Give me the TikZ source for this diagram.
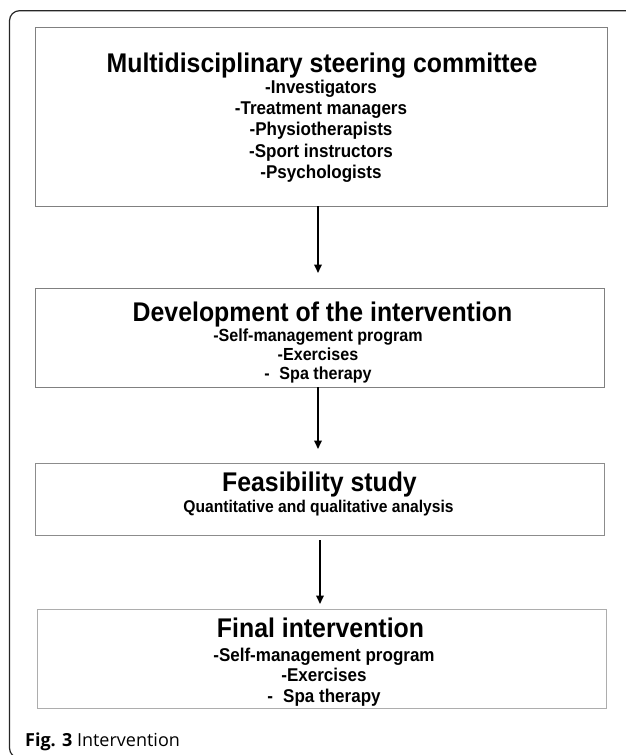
\documentclass[tikz,border=0pt]{standalone}
\usepackage{graphicx}
\usepackage{fontspec}
\setmainfont{Liberation Sans}
\newfontfamily\capfont{Open Sans}
\usetikzlibrary{arrows.meta}
\newcommand\cnd[1]{\scalebox{0.92}[1]{#1}}
\begin{document}
\begin{tikzpicture}[x=1pt,y=-1pt,
  boxst/.style={draw=#1, line width=0.9pt, inner sep=0pt},
  ttl/.style={font=\bfseries\fontsize{27}{30}\selectfont, anchor=base, inner sep=0pt},
  itm/.style={font=\bfseries\fontsize{#1}{#1}\selectfont, anchor=base, inner sep=0pt},
  arr/.style={line width=1.7pt, -{Triangle[width=7.5pt,length=8.5pt]}}]
\useasboundingbox (0,0) rectangle (625,755);
% outer frame
\draw[line width=1.2pt, color=black!85, rounded corners=10pt] (630,10.7) -- (9.5,10.7) -- (9.5,758) -- (630,758);
% boxes
\node[boxst=black!50, minimum width=572pt, minimum height=178.5pt] (b1) at (321,116.75) {};
\node[boxst=black!50, minimum width=569pt, minimum height=99pt] (b2) at (319.5,337.5) {};
\node[boxst=black!45, minimum width=569pt, minimum height=72pt] (b3) at (319.5,499) {};
\node[boxst=black!32, minimum width=569pt, minimum height=99pt] (b4) at (321.5,658.5) {};
% box 1 text
\node[ttl] (t1) at (322,72.5) {\cnd{Multidisciplinary steering committee}};
\node[itm=18.5] (t1a) at (321,93.5) {\cnd{-Investigators}};
\node[itm=18.5] (t1b) at (321,114.5) {\cnd{-Treatment managers}};
\node[itm=18.5] (t1c) at (321,135.5) {\cnd{-Physiotherapists}};
\node[itm=18.5] (t1d) at (321,157) {\cnd{-Sport instructors}};
\node[itm=18.5] (t1e) at (321,178.5) {\cnd{-Psychologists}};
% box 2 text
\node[ttl] (t2) at (322.5,321) {\cnd{Development of the intervention}};
\node[itm=17.5] (t2a) at (318,341) {\cnd{-Self-management program}};
\node[itm=17.5] (t2b) at (318,360) {\cnd{-Exercises}};
\node[itm=17.5] (t2c) at (318,379) {\cnd{-\hspace{0.6em}Spa therapy}};
% box 3 text
\node[ttl] (t3) at (319.5,491) {\cnd{Feasibility study}};
\node[itm=17] (t3a) at (318.5,512.5) {\cnd{Quantitative and qualitative analysis}};
% box 4 text
\node[ttl] (t4) at (320.5,637) {\cnd{Final intervention}};
\node[itm=18.5] (t4a) at (324,661) {\cnd{-Self-management program}};
\node[itm=18.5] (t4b) at (324,681.5) {\cnd{-Exercises}};
\node[itm=18.5] (t4c) at (324,702) {\cnd{-\hspace{0.6em}Spa therapy}};
% arrows
\coordinate (a1s) at (318,206);
\coordinate (a1e) at (318,273);
\coordinate (a2s) at (318,387);
\coordinate (a2e) at (318,449);
\coordinate (a3s) at (320,540);
\coordinate (a3e) at (320,604);
\draw[arr] (a1s) -- (a1e);
\draw[arr] (a2s) -- (a2e);
\draw[arr] (a3s) -- (a3e);
% caption
\node[anchor=base west, inner sep=0pt, font=\capfont\fontsize{18}{20}\selectfont] (cap) at (25,746) {\textbf{Fig. 3} Intervention};
\end{tikzpicture}
\end{document}
